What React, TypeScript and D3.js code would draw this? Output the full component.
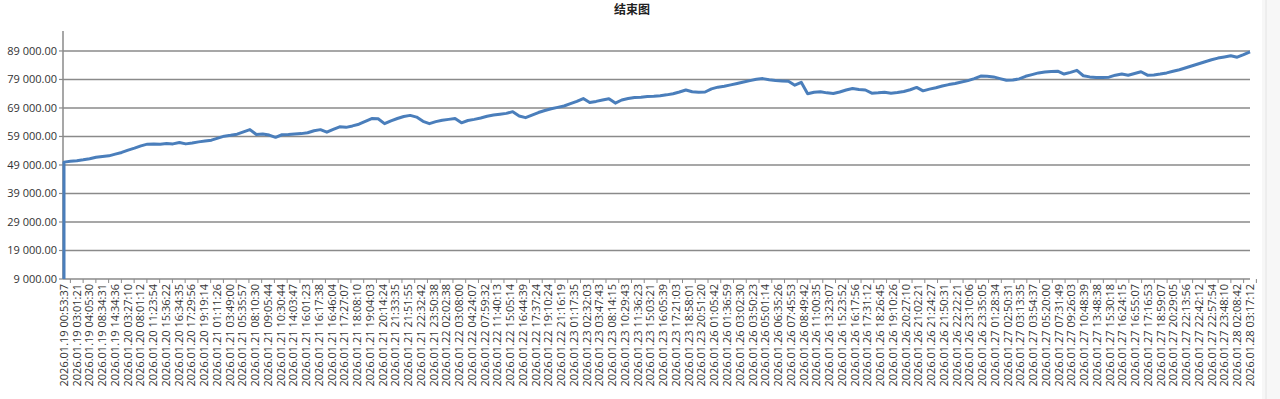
import React from "react";
import * as d3 from "d3";

const title = "结束图";

const yTicks = [9000, 19000, 29000, 39000, 49000, 59000, 69000, 79000, 89000];
const yMin = 9000;
const yMax = 96000;

const xLabels = [
  "2026.01.19 00:53:37", "2026.01.19 03:01:21", "2026.01.19 04:05:30", "2026.01.19 08:34:31",
  "2026.01.19 14:34:36", "2026.01.20 03:27:10", "2026.01.20 08:01:12", "2026.01.20 11:23:54",
  "2026.01.20 15:36:22", "2026.01.20 16:34:35", "2026.01.20 17:29:56", "2026.01.20 19:19:14",
  "2026.01.21 01:11:26", "2026.01.21 03:49:00", "2026.01.21 05:35:57", "2026.01.21 08:10:30",
  "2026.01.21 09:05:44", "2026.01.21 10:30:44", "2026.01.21 14:03:47", "2026.01.21 16:01:23",
  "2026.01.21 16:17:38", "2026.01.21 16:46:04", "2026.01.21 17:27:07", "2026.01.21 18:08:10",
  "2026.01.21 19:04:03", "2026.01.21 20:14:24", "2026.01.21 21:33:35", "2026.01.21 21:51:55",
  "2026.01.21 22:32:42", "2026.01.21 23:50:38", "2026.01.22 02:02:38", "2026.01.22 03:08:00",
  "2026.01.22 04:24:07", "2026.01.22 07:59:32", "2026.01.22 11:40:13", "2026.01.22 15:05:14",
  "2026.01.22 16:44:39", "2026.01.22 17:37:24", "2026.01.22 19:10:24", "2026.01.22 21:16:19",
  "2026.01.23 01:17:35", "2026.01.23 02:32:03", "2026.01.23 03:47:43", "2026.01.23 08:14:15",
  "2026.01.23 10:29:43", "2026.01.23 11:36:23", "2026.01.23 15:03:21", "2026.01.23 16:05:39",
  "2026.01.23 17:21:03", "2026.01.23 18:58:01", "2026.01.23 20:51:20", "2026.01.26 01:05:42",
  "2026.01.26 01:36:59", "2026.01.26 03:02:30", "2026.01.26 03:50:23", "2026.01.26 05:01:14",
  "2026.01.26 06:35:26", "2026.01.26 07:45:53", "2026.01.26 08:49:42", "2026.01.26 11:00:35",
  "2026.01.26 13:23:07", "2026.01.26 15:23:52", "2026.01.26 16:17:56", "2026.01.26 17:31:12",
  "2026.01.26 18:26:45", "2026.01.26 19:10:26", "2026.01.26 20:27:10", "2026.01.26 21:02:21",
  "2026.01.26 21:24:27", "2026.01.26 21:50:31", "2026.01.26 22:22:21", "2026.01.26 23:10:06",
  "2026.01.26 23:35:05", "2026.01.27 01:28:34", "2026.01.27 02:50:31", "2026.01.27 03:13:35",
  "2026.01.27 03:54:37", "2026.01.27 05:20:00", "2026.01.27 07:31:49", "2026.01.27 09:26:03",
  "2026.01.27 10:48:39", "2026.01.27 13:48:38", "2026.01.27 15:30:18", "2026.01.27 16:24:15",
  "2026.01.27 16:55:07", "2026.01.27 17:16:53", "2026.01.27 18:59:07", "2026.01.27 20:29:05",
  "2026.01.27 22:13:56", "2026.01.27 22:42:12", "2026.01.27 22:57:54", "2026.01.27 23:48:10",
  "2026.01.28 02:08:42", "2026.01.28 03:17:12",
];

// opening value (drawn at the first category) and balance after each step
const openingValue = 9000;
const balance = [
  50000, 50300, 50500, 50800, 51200, 51700, 52000, 52200, 52800,
  53400, 54200, 54900, 55700, 56300, 56400, 56300, 56500, 56400, 56900,
  56400, 56700, 57100, 57400, 57700, 58400, 59100, 59400, 59800, 60600,
  61400, 59700, 59900, 59500, 58700, 59600, 59700, 59900, 60000, 60300,
  61000, 61400, 60500, 61500, 62400, 62200, 62700, 63300, 64300, 65300,
  65200, 63500, 64500, 65300, 66000, 66400, 65800, 64300, 63500, 64200,
  64700, 65000, 65300, 63800, 64600, 65000, 65500, 66100, 66500, 66800,
  67100, 67700, 66200, 65600, 66500, 67400, 68100, 68700, 69200, 69700,
  70500, 71300, 72300, 70900, 71300, 71800, 72200, 70700, 71800, 72300,
  72700, 72800, 73000, 73100, 73300, 73600, 74000, 74600, 75300, 74700,
  74500, 74600, 75700, 76300, 76600, 77100, 77600, 78100, 78600, 79100,
  79300, 78900, 78600, 78500, 78400, 77000, 78000, 74000, 74500, 74700,
  74300, 74100, 74600, 75300, 75800, 75500, 75300, 74200, 74300, 74500,
  74200, 74400, 74800, 75400, 76200, 75000, 75600, 76100, 76700, 77200,
  77600, 78100, 78600, 79300, 80200, 80100, 79900, 79300, 78700, 78800,
  79200, 80100, 80700, 81300, 81600, 81800, 81900, 80900, 81500, 82200,
  80300, 79900, 79700, 79700, 79800, 80500, 80900, 80500, 81100, 81700,
  80500, 80600, 80900, 81300, 81900, 82400, 83100, 83800, 84500, 85200,
  85900, 86500, 86900, 87300, 86800, 87700, 88700,
];

const W = 1280;
const H = 399;
const left = 64;
const right = 1250;
const top = 31;
const bottom = 279;

const fontFam = "'Open Sans', 'Liberation Sans', sans-serif";

export default function App() {
  const y = d3.scaleLinear().domain([yMin, yMax]).range([bottom, top]);
  const xCat = d3.scalePoint<string>().domain(xLabels).range([left, right]);
  const xIdx = d3.scaleLinear().domain([0, balance.length - 1]).range([left, right]);
  const pts: [number, number][] = [
    [xIdx(0), y(openingValue)],
    ...balance.map((v, i) => [xIdx(i), y(v)] as [number, number]),
  ];
  const line = d3.line().curve(d3.curveLinear);
  const fmt = (v: number) => d3.format(",.2f")(v).replace(/,/g, " ");
  const step = xCat.step();

  return (
    <svg
      width={W}
      height={H}
      style={{ position: "absolute", left: 0, top: 0, background: "#fff" }}
    >
      <rect x={1262} y={0} width={18} height={H} fill="#f7f7f7" />
      <line x1={1266} x2={1266} y1={0} y2={H} stroke="#e4e4e4" />
      <text
        x={632}
        y={14}
        textAnchor="middle"
        fontFamily="'Noto Sans CJK SC', sans-serif"
        fontSize={12}
        fontWeight="bold"
        fill="#222"
      >
        {title}
      </text>

      {/* gridlines */}
      {yTicks.slice(1).map((t) => (
        <line
          key={"g" + t}
          x1={left - 1}
          x2={right}
          y1={y(t)}
          y2={y(t)}
          stroke="#8a8a8a"
          strokeWidth={1.5}
        />
      ))}

      {/* y axis */}
      <line x1={left - 1} x2={left - 1} y1={top} y2={bottom} stroke="#8a8a8a" strokeWidth={1.5} />
      {yTicks.map((t) => (
        <g key={"y" + t}>
          <line x1={left - 5} x2={left - 1} y1={y(t)} y2={y(t)} stroke="#8a8a8a" strokeWidth={1.2} />
          <text
            x={left - 7}
            y={y(t)}
            dy="0.35em"
            textAnchor="end"
            fontFamily={fontFam}
            fontSize={11}
            fill="#333"
          >
            {fmt(t)}
          </text>
        </g>
      ))}

      {/* x axis */}
      <line x1={left - 1} x2={right} y1={bottom} y2={bottom} stroke="#8a8a8a" strokeWidth={1.5} />
      {xLabels.map((lab) => {
        const cx = xCat(lab) as number;
        return (
          <g key={lab}>
            <line
              x1={cx + step / 2}
              x2={cx + step / 2}
              y1={bottom}
              y2={bottom + 4}
              stroke="#8a8a8a"
              strokeWidth={1}
            />
            <text
              transform={`translate(${cx},${bottom + 5}) rotate(-90)`}
              dy="0.35em"
              textAnchor="end"
              fontFamily={fontFam}
              fontSize={11}
              fill="#333"
            >
              {lab}
            </text>
          </g>
        );
      })}

      {/* series */}
      <path
        d={line(pts) || ""}
        fill="none"
        stroke="#4a7ebb"
        strokeWidth={3}
        strokeLinejoin="round"
      />
    </svg>
  );
}
